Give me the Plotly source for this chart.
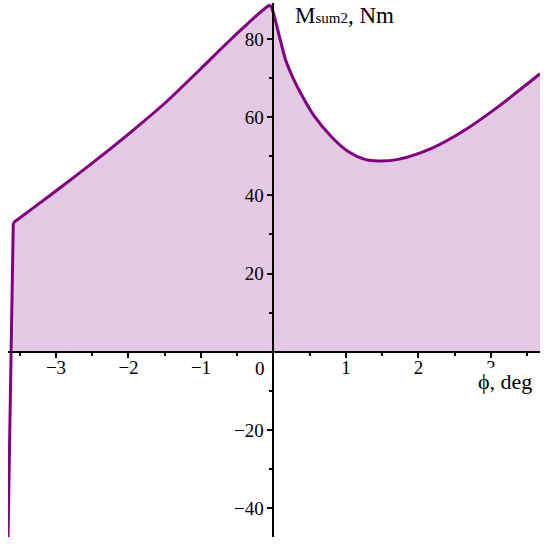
import plotly.graph_objects as go

# Data
phi_deg = [-3.662, -3.589, -3.313, -2.852, -2.462, -1.934, -1.473, -1.014, -0.554, -0.094, -0.039,
           0.0, 0.09, 0.17, 0.27, 0.37, 0.55, 0.80, 1.03, 1.26, 1.45, 1.72, 2.18, 2.64, 3.10, 3.676]
m_sum2 = [-47.5, 33.0, 36.8, 43.2, 48.8, 56.7, 64.0, 72.2, 80.5, 88.2, 88.7,
          86.6, 80.0, 74.5, 70.0, 66.3, 60.6, 55.0, 51.2, 49.2, 48.8, 49.2, 52.0, 56.7, 62.7, 71.1]

x_major_ticks = [-3, -2, -1, 1, 2, 3]
x_minor_ticks = [-3.5, -2.5, -1.5, -0.5, 0.5, 1.5, 2.5, 3.5]
y_major_ticks = [-40, -20, 20, 40, 60, 80]
y_minor_ticks = [-30, -10, 10, 30, 50, 70]

X_RANGE = [-3.662, 3.676]
Y_RANGE = [-47.4, 89.2]

LINE = "rgb(128,0,128)"
FILL = "rgba(128,0,128,0.21)"
FONT = "Liberation Serif"

# break points of the curve (sharp corners): the step-up corner and the peak
CORNER = 1
PEAK = 10

fig = go.Figure()
# shaded area (positive part, from the corner point onwards)
fig.add_trace(go.Scatter(x=phi_deg[CORNER:], y=m_sum2[CORNER:], mode="lines",
                         line=dict(width=0, color=LINE), fill="tozeroy",
                         fillcolor=FILL, hoverinfo="skip"))
# the curve, drawn piecewise so that the corners stay sharp
pieces = [(0, CORNER + 1, "linear"), (CORNER, PEAK + 1, "spline"), (PEAK, len(phi_deg), "spline")]
for a, b, shape in pieces:
    fig.add_trace(go.Scatter(x=phi_deg[a:b], y=m_sum2[a:b], mode="lines",
                             line=dict(width=3, color=LINE, shape=shape, smoothing=0.8)))

ypos = (0 - Y_RANGE[0]) / (Y_RANGE[1] - Y_RANGE[0])
xpos = (0 - X_RANGE[0]) / (X_RANGE[1] - X_RANGE[0])

axis_common = dict(showgrid=False, zeroline=False, showline=True, linecolor="black",
                   linewidth=2, ticks="outside", ticklen=5, tickwidth=2, tickcolor="black",
                   tickfont=dict(family=FONT, size=19, color="black"), anchor="free",
                   automargin=False)

fig.update_layout(
    width=550, height=546,
    margin=dict(l=8, r=10, t=3, b=9),
    plot_bgcolor="white", paper_bgcolor="white",
    showlegend=False,
    xaxis=dict(range=X_RANGE, tickmode="array", tickvals=x_major_ticks,
               position=ypos, ticklabelstandoff=-7,
               minor=dict(tickmode="array", tickvals=x_minor_ticks, ticks="outside",
                          ticklen=3, tickwidth=2, tickcolor="black", showgrid=False),
               **axis_common),
    yaxis=dict(range=Y_RANGE, tickmode="array", tickvals=y_major_ticks,
               position=xpos,
               minor=dict(tickmode="array", tickvals=y_minor_ticks, ticks="outside",
                          ticklen=3, tickwidth=2, tickcolor="black", showgrid=False),
               **axis_common),
)

fig.add_annotation(x=0, y=0, xref="x", yref="y", text="0", showarrow=False,
                   xanchor="center", yanchor="middle", xshift=-13, yshift=-17,
                   font=dict(family=FONT, size=19, color="black"))
fig.add_annotation(x=0.934, y=0.292, xref="paper", yref="paper", text="ϕ, deg",
                   showarrow=False, xanchor="center", yanchor="middle",
                   bgcolor="white", borderpad=1,
                   font=dict(family=FONT, size=22, color="black"))
fig.add_annotation(x=0.536, y=0.9775, xref="paper", yref="paper",
                   text="M<span style='font-size:15px'>sum2</span>, Nm",
                   showarrow=False, xanchor="left", yanchor="middle",
                   font=dict(family=FONT, size=23, color="black"))

fig.write_html("out.html", config={"displayModeBar": False},
               post_script="document.body.style.margin='0px';")
